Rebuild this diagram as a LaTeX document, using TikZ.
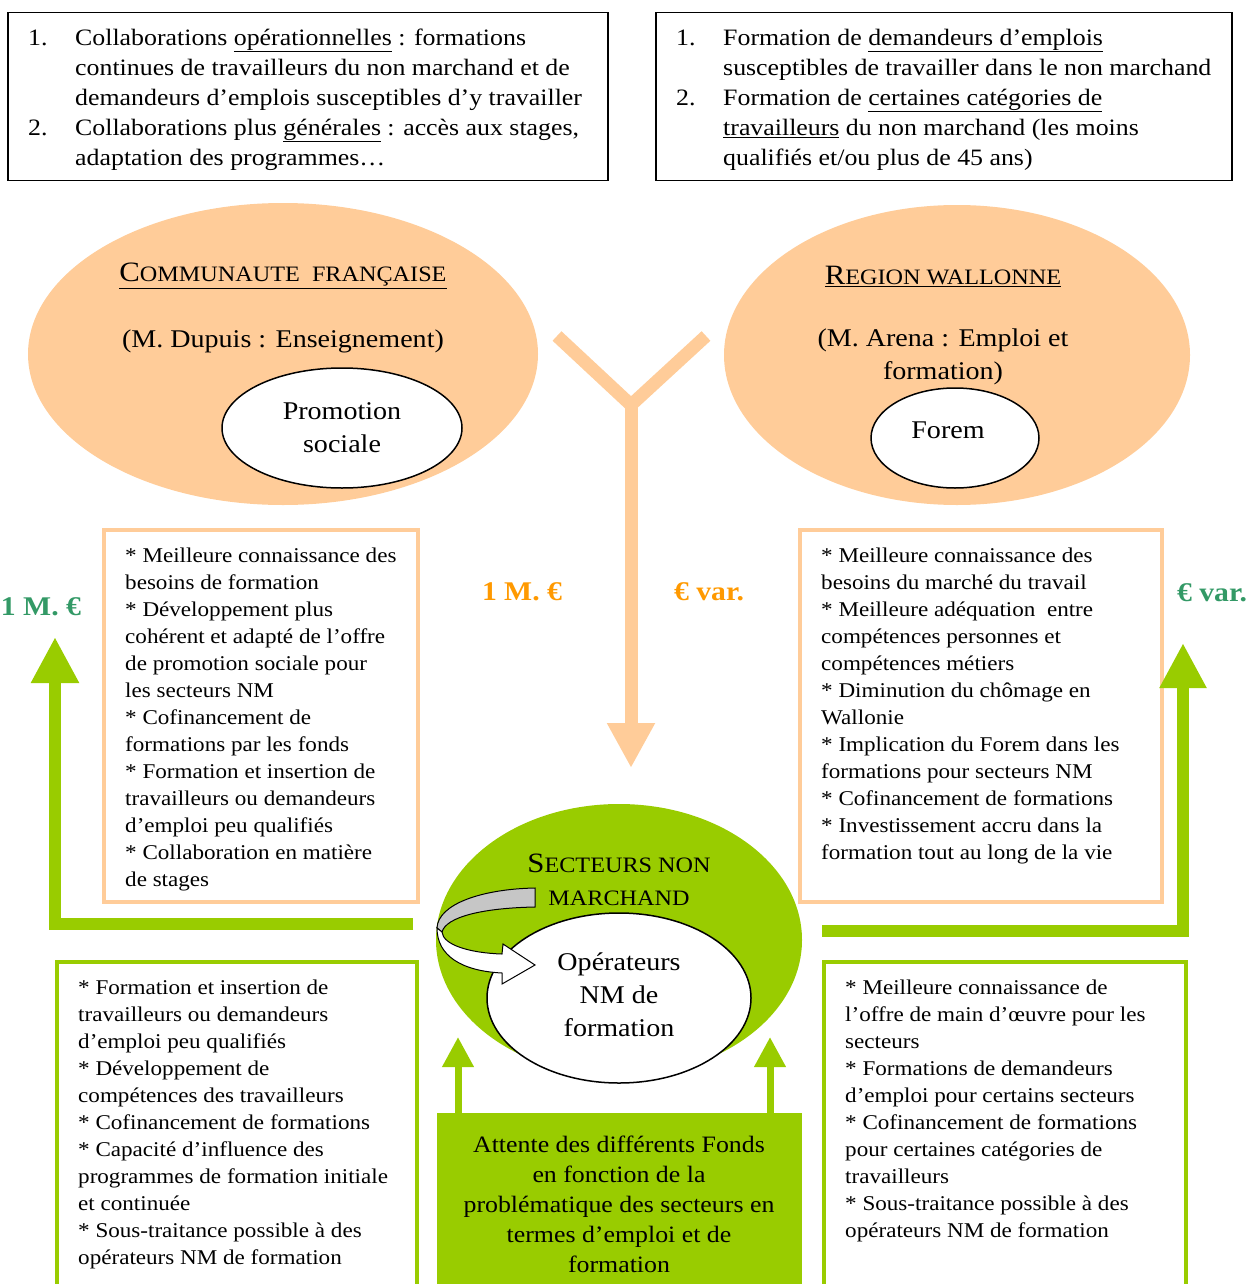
\documentclass[tikz,border=0pt]{standalone}
\usepackage{fontspec}
\setmainfont{Liberation Serif}[FakeStretch=1.1]
\usetikzlibrary{arrows.meta,shapes.geometric}
\definecolor{peche}{HTML}{FFCC99}
\definecolor{vertnm}{HTML}{99CC00}
\definecolor{vertfonce}{HTML}{339966}
\definecolor{orangefonce}{HTML}{FF9900}
\newcommand{\petitcap}[2]{{\fontsize{28}{33}\selectfont #1}{\fontsize{22}{33}\selectfont #2}}
\newcommand{\retrait}{\hspace*{47pt}}

\begin{document}
\begin{tikzpicture}[x=1pt, y=-1pt,
  cadre/.style={draw, line width=1.5pt, minimum width=600pt, minimum height=168pt, anchor=north west, inner sep=0pt},
  liste/.style={anchor=north west, inner sep=0pt, align=left, font=\fontsize{23.5}{30}\selectfont},
  puce/.style={anchor=north west, inner sep=0pt, align=left, font=\fontsize{21}{27}\selectfont},
  boite/.style={line width=4pt, anchor=north west, inner sep=0pt},
  bulle/.style={ellipse, inner sep=0pt},
  titre/.style={align=center, inner sep=0pt, font=\fontsize{25.5}{33}\selectfont},
  somme/.style={inner sep=0pt, font=\fontsize{27}{30}\selectfont\bfseries},
  fleche/.style={line width=#1, line join=miter}]
  \useasboundingbox (0,0) rectangle (1251,1284);
  \clip (0,0) rectangle (1251,1284);

  % cadres du haut
  \node[cadre] (cadreCF) at (7,12) {};
  \node[cadre, minimum width=576pt] (cadreRW) at (655,12) {};
  \node[liste] (listeCF) at (28,24) {\strut\makebox[47pt][l]{1.}Collaborations \underline{opérationnelles} : formations\\
    \retrait continues de travailleurs du non marchand et de\\
    \retrait demandeurs d’emplois susceptibles d’y travailler\\
    \makebox[47pt][l]{2.}Collaborations plus \underline{générales} : accès aux stages,\\
    \retrait adaptation des programmes…};
  \node[liste] (listeRW) at (676,24) {\strut\makebox[47pt][l]{1.}Formation de \underline{demandeurs d’emplois}\\
    \retrait susceptibles de travailler dans le non marchand\\
    \makebox[47pt][l]{2.}Formation de \underline{certaines catégories de}\\
    \retrait\underline{travailleurs} du non marchand (les moins\\
    \retrait qualifiés et/ou plus de 45 ans)};

  % les deux pouvoirs
  \node[bulle, fill=peche, minimum width=510pt, minimum height=302pt] (cf) at (283,354) {};
  \node[bulle, fill=peche, minimum width=466pt, minimum height=300pt] (rw) at (957,355) {};
  \node[titre] (nomCF) at (283,276) {\underline{\petitcap{C}{OMMUNAUTE\ \ FRANÇAISE}}};
  \node[titre] (ministreCF) at (283,341) {(M. Dupuis : Enseignement)};
  \node[bulle, draw, line width=1.5pt, fill=white, minimum width=240pt, minimum height=120pt] (promsoc) at (342,428) {};
  \node[titre] at (promsoc) {Promotion\\sociale};
  \node[titre] (nomRW) at (943,276) {\underline{\petitcap{R}{EGION WALLONNE}}};
  \node[titre] (ministreRW) at (943,357) {(M. Arena : Emploi et\\formation)};
  \node[bulle, draw, line width=1.5pt, fill=white, minimum width=168pt, minimum height=100pt] (forem) at (955,438) {};
  \node[titre] at (948,430) {Forem};

  % financement vers le non marchand
  \coordinate (brasG) at (557,336);
  \coordinate (brasD) at (706,336);
  \coordinate (noeudY) at (631,405);
  \coordinate (pointeY) at (631,768);
  \draw[peche, fleche=13pt] (brasG) -- (noeudY) -- (brasD);
  \draw[peche, fleche=13pt, -{Triangle[width=45pt,length=45pt]}] (noeudY) -- (pointeY);
  \node[somme, text=orangefonce] (montantCF) at (522,592) {1 M. €};
  \node[somme, text=orangefonce] (montantRW) at (709,592) {€ var.};

  % attentes des pouvoirs
  \node[boite, draw=peche, minimum width=314pt, minimum height=372pt] (attCF) at (102,528) {};
  \node[boite, draw=peche, minimum width=362pt, minimum height=372pt] (attRW) at (798,528) {};
  \node[puce] (texteCF) at (125,543) {\strut* Meilleure connaissance des\\
    besoins de formation\\
    * Développement plus\\
    cohérent et adapté de l’offre\\
    de promotion sociale pour\\
    les secteurs NM\\
    * Cofinancement de\\
    formations par les fonds\\
    * Formation et insertion de\\
    travailleurs ou demandeurs\\
    d’emploi peu qualifiés\\
    * Collaboration en matière\\
    de stages};
  \node[puce] (texteRW) at (821,543) {\strut* Meilleure connaissance des\\
    besoins du marché du travail\\
    * Meilleure adéquation\ \ entre\\
    compétences personnes et\\
    compétences métiers\\
    * Diminution du chômage en\\
    Wallonie\\
    * Implication du Forem dans les\\
    formations pour secteurs NM\\
    * Cofinancement de formations\\
    * Investissement accru dans la\\
    formation tout au long de la vie};

  % retours du non marchand
  \coordinate (departG) at (413,924);
  \coordinate (coinG) at (55,924);
  \coordinate (pointeG) at (55,637);
  \coordinate (departD) at (822,931);
  \coordinate (coinD) at (1183,931);
  \coordinate (pointeD) at (1183,643);
  \draw[vertnm, fleche=12pt, -{Triangle[width=45pt,length=46pt]}] (departG) -- (coinG) -- (pointeG);
  \draw[vertnm, fleche=12pt, -{Triangle[width=44pt,length=45pt]}] (departD) -- (coinD) -- (pointeD);
  \node[somme, text=vertfonce] (retourCF) at (41,607) {1 M. €};
  \node[somme, text=vertfonce] (retourRW) at (1212,593) {€ var.};

  % secteurs non marchand
  \node[bulle, fill=vertnm, minimum width=366pt, minimum height=272pt] (nm) at (619,940) {};
  \node[titre] (nomNM) at (619,880) {\petitcap{S}{ECTEURS NON}\\{\fontsize{22}{33}\selectfont MARCHAND}};
  \node[bulle, draw, line width=1.5pt, fill=white, minimum width=264pt, minimum height=170pt] (operateurs) at (619,998) {};
  \node[titre] at (619,995) {Opérateurs\\NM de\\formation};
  % fleche courbe
  \fill[gray!45, draw=black, line width=1pt] (535,888) -- (535,907)
    .. controls (482,908) and (446,917) .. (442,932) -- (437,928)
    .. controls (438,904) and (482,889) .. (535,888) -- cycle;
  \fill[white, draw=black, line width=1pt] (442,932)
    .. controls (443,945) and (470,953) .. (502,954) -- (503,944) -- (535,965)
    -- (502,984) -- (502,973) .. controls (462,971) and (437,956) .. (437,928) -- cycle;

  % attentes des fonds
  \node[boite, draw=vertnm, minimum width=360pt, minimum height=340pt] (fondsG) at (55,960) {};
  \node[boite, draw=vertnm, minimum width=362pt, minimum height=340pt] (fondsD) at (822,960) {};
  \node[puce] (texteFG) at (78,975) {\strut* Formation et insertion de\\
    travailleurs ou demandeurs\\
    d’emploi peu qualifiés\\
    * Développement de\\
    compétences des travailleurs\\
    * Cofinancement de formations\\
    * Capacité d’influence des\\
    programmes de formation initiale\\
    et continuée\\
    * Sous-traitance possible à des\\
    opérateurs NM de formation};
  \node[puce] (texteFD) at (845,975) {\strut* Meilleure connaissance de\\
    l’offre de main d’œuvre pour les\\
    secteurs\\
    * Formations de demandeurs\\
    d’emploi pour certains secteurs\\
    * Cofinancement de formations\\
    pour certaines catégories de\\
    travailleurs\\
    * Sous-traitance possible à des\\
    opérateurs NM de formation};

  \node[boite, fill=vertnm, line width=0pt, minimum width=365pt, minimum height=180pt] (fonds) at (437,1113) {};
  \node[titre, font=\fontsize{23.5}{30}\selectfont, anchor=north] (texteFonds) at (619,1136) {Attente des différents Fonds\\
    en fonction de la\\
    problématique des secteurs en\\
    termes d’emploi et de\\
    formation};
  \coordinate (pointeFG) at (458,1037);
  \coordinate (pointeFD) at (770,1037);
  \draw[vertnm, fleche=7pt, -{Triangle[width=30pt,length=30pt]}] (fonds.north west -| pointeFG) -- (pointeFG);
  \draw[vertnm, fleche=7pt, -{Triangle[width=30pt,length=30pt]}] (fonds.north west -| pointeFD) -- (pointeFD);
\end{tikzpicture}
\end{document}
